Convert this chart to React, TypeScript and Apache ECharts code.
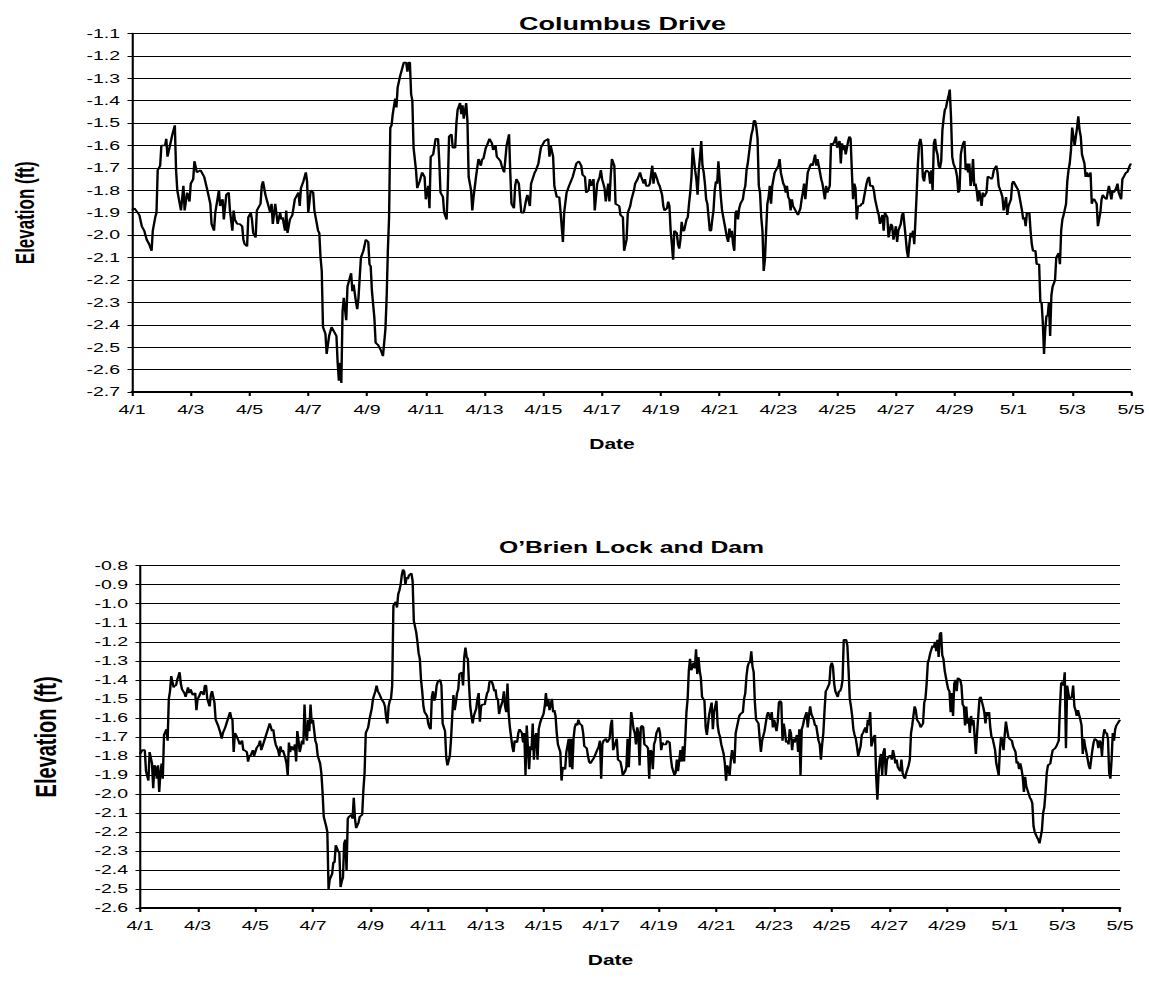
import { useEffect, useRef } from "react";
import * as echarts from "echarts";

// Hourly water-surface elevation readings: [hours since 4/1 00:00, elevation in ft]
const columbusDrive: [number, number][] = [
  [0,-1.89],[2,-1.88],[6,-1.91],[8,-1.96],[10,-1.98],[12,-2.02],[14,-2.04],[16,-2.07],[17,-1.98],[19,-1.92],
  [20,-1.90],[21,-1.71],[23,-1.69],[24,-1.60],[27,-1.60],[28,-1.57],[29,-1.65],[31,-1.60],[33,-1.55],[35,-1.51],
  [36,-1.71],[37,-1.80],[40,-1.89],[42,-1.78],[43,-1.89],[45,-1.81],[47,-1.85],[48,-1.77],[50,-1.75],[51,-1.67],
  [53,-1.72],[56,-1.71],[59,-1.74],[62,-1.81],[64,-1.86],[65,-1.95],[67,-1.98],[68,-1.90],[71,-1.80],[72,-1.87],
  [74,-1.84],[75,-1.93],[77,-1.82],[79,-1.81],[80,-1.89],[82,-1.98],[83,-1.89],[84,-1.93],[86,-1.95],[88,-1.95],
  [90,-1.96],[91,-2.02],[92,-2.04],[94,-2.05],[95,-1.92],[97,-1.90],[98,-1.93],[99,-1.99],[101,-2.01],[102,-1.89],
  [105,-1.86],[106,-1.78],[107,-1.76],[109,-1.82],[111,-1.86],[113,-1.90],[114,-1.86],[115,-1.95],[117,-1.86],[119,-1.95],
  [121,-1.90],[122,-1.93],[123,-1.92],[125,-1.98],[126,-1.89],[127,-1.99],[129,-1.93],[131,-1.91],[133,-1.84],[134,-1.83],
  [136,-1.81],[137,-1.87],[138,-1.79],[140,-1.76],[142,-1.72],[143,-1.76],[144,-1.90],[146,-1.80],[148,-1.81],[149,-1.89],
  [150,-1.92],[152,-1.98],[153,-1.99],[154,-2.10],[155,-2.16],[156,-2.41],[158,-2.44],[159,-2.53],[161,-2.45],[163,-2.41],
  [165,-2.43],[167,-2.45],[168,-2.57],[169,-2.65],[170,-2.57],[171,-2.66],[172,-2.34],[173,-2.28],[175,-2.38],[176,-2.23],
  [177,-2.21],[179,-2.17],[180,-2.25],[181,-2.22],[183,-2.30],[184,-2.33],[185,-2.28],[187,-2.10],[189,-2.07],[191,-2.02],
  [193,-2.03],[194,-2.13],[195,-2.14],[196,-2.25],[198,-2.37],[199,-2.48],[201,-2.49],[203,-2.51],[205,-2.54],[207,-2.42],
  [208,-2.28],[209,-2.07],[210,-1.92],[211,-1.52],[212,-1.51],[213,-1.46],[215,-1.39],[216,-1.43],[217,-1.34],[219,-1.29],
  [221,-1.25],[222,-1.23],[224,-1.23],[225,-1.27],[226,-1.23],[227,-1.23],[228,-1.37],[229,-1.40],[230,-1.61],[232,-1.71],
  [233,-1.79],[235,-1.76],[237,-1.72],[239,-1.74],[240,-1.84],[242,-1.78],[243,-1.88],[244,-1.65],[246,-1.64],[248,-1.57],
  [250,-1.57],[251,-1.67],[252,-1.81],[254,-1.83],[255,-1.90],[257,-1.93],[258,-1.78],[259,-1.56],[261,-1.55],[262,-1.61],
  [264,-1.61],[265,-1.50],[266,-1.44],[268,-1.41],[269,-1.46],[270,-1.42],[271,-1.48],[273,-1.41],[274,-1.49],[275,-1.74],
  [277,-1.80],[278,-1.89],[279,-1.83],[281,-1.74],[283,-1.66],[285,-1.69],[286,-1.66],[287,-1.66],[289,-1.61],[290,-1.60],
  [292,-1.57],[294,-1.59],[295,-1.62],[297,-1.60],[298,-1.65],[301,-1.67],[302,-1.69],[304,-1.72],[306,-1.60],[308,-1.55],
  [309,-1.72],[310,-1.86],[312,-1.88],[313,-1.78],[314,-1.75],[316,-1.77],[318,-1.90],[320,-1.90],[322,-1.84],[323,-1.82],
  [325,-1.87],[326,-1.77],[329,-1.72],[330,-1.71],[332,-1.68],[334,-1.61],[337,-1.58],[340,-1.57],[341,-1.65],[342,-1.60],
  [344,-1.65],[345,-1.78],[347,-1.83],[349,-1.83],[350,-1.89],[352,-2.03],[353,-1.90],[355,-1.81],[357,-1.78],[360,-1.74],
  [363,-1.68],[365,-1.67],[367,-1.69],[368,-1.73],[370,-1.74],[371,-1.81],[373,-1.80],[374,-1.75],[375,-1.78],[377,-1.75],
  [378,-1.89],[380,-1.77],[382,-1.74],[383,-1.71],[384,-1.75],[386,-1.79],[387,-1.85],[389,-1.77],[390,-1.85],[391,-1.74],
  [392,-1.66],[394,-1.69],[395,-1.86],[398,-1.87],[399,-1.91],[401,-1.92],[402,-2.07],[404,-2.02],[405,-1.90],[407,-1.87],
  [408,-1.84],[410,-1.80],[411,-1.77],[413,-1.75],[415,-1.72],[416,-1.74],[418,-1.77],[419,-1.75],[420,-1.78],[422,-1.78],
  [423,-1.77],[425,-1.69],[426,-1.77],[427,-1.72],[429,-1.75],[430,-1.77],[431,-1.78],[433,-1.82],[434,-1.87],[435,-1.89],
  [437,-1.88],[438,-1.85],[439,-1.87],[440,-1.98],[441,-2.04],[442,-2.11],[443,-1.98],[445,-1.99],[446,-2.04],[447,-2.06],
  [448,-2.02],[449,-1.94],[450,-1.98],[451,-1.98],[453,-1.93],[454,-1.92],[455,-1.86],[456,-1.81],[457,-1.74],[458,-1.61],
  [460,-1.71],[461,-1.75],[462,-1.82],[463,-1.71],[464,-1.65],[465,-1.58],[466,-1.69],[467,-1.72],[468,-1.77],[469,-1.84],
  [470,-1.86],[471,-1.92],[472,-1.98],[473,-1.98],[474,-1.93],[475,-1.89],[476,-1.80],[477,-1.76],[478,-1.77],[479,-1.67],
  [480,-1.75],[481,-1.83],[482,-1.89],[484,-1.95],[485,-1.98],[486,-2.01],[487,-2.03],[488,-1.97],[489,-2.01],[490,-1.98],
  [491,-2.04],[492,-2.07],[493,-1.90],[494,-1.89],[495,-1.93],[496,-1.88],[497,-1.86],[499,-1.84],[500,-1.80],[501,-1.78],
  [502,-1.71],[503,-1.68],[505,-1.59],[506,-1.55],[507,-1.53],[508,-1.49],[509,-1.49],[510,-1.52],[511,-1.57],[512,-1.78],
  [513,-1.81],[514,-1.92],[515,-1.98],[516,-2.16],[517,-2.11],[518,-1.98],[519,-1.86],[520,-1.83],[521,-1.78],[522,-1.86],
  [523,-1.78],[524,-1.75],[525,-1.72],[528,-1.69],[529,-1.66],[530,-1.72],[532,-1.77],[533,-1.78],[534,-1.81],[535,-1.78],
  [536,-1.83],[537,-1.84],[538,-1.89],[539,-1.84],[540,-1.87],[542,-1.89],[543,-1.90],[544,-1.91],[546,-1.88],[547,-1.84],
  [548,-1.81],[549,-1.77],[550,-1.84],[552,-1.72],[554,-1.69],[555,-1.68],[556,-1.69],[558,-1.64],[559,-1.69],[560,-1.66],
  [562,-1.72],[563,-1.75],[564,-1.77],[566,-1.84],[567,-1.78],[568,-1.81],[570,-1.78],[571,-1.59],[572,-1.60],[574,-1.58],
  [575,-1.56],[576,-1.61],[578,-1.58],[579,-1.68],[580,-1.59],[581,-1.62],[582,-1.60],[583,-1.64],[585,-1.58],[586,-1.56],
  [587,-1.57],[588,-1.71],[589,-1.84],[590,-1.77],[591,-1.79],[592,-1.93],[593,-1.87],[595,-1.87],[596,-1.86],[597,-1.86],
  [599,-1.80],[600,-1.77],[601,-1.75],[602,-1.74],[603,-1.78],[605,-1.78],[606,-1.80],[607,-1.84],[609,-1.89],[610,-1.91],
  [611,-1.95],[613,-1.91],[614,-1.98],[615,-1.90],[617,-1.92],[618,-2.01],[620,-1.95],[621,-1.96],[622,-2.02],[624,-1.96],
  [625,-2.03],[626,-1.98],[628,-1.95],[629,-1.91],[630,-1.90],[632,-2.01],[633,-2.07],[634,-2.10],[635,-2.04],[636,-1.99],
  [637,-2.01],[638,-1.98],[639,-2.04],[640,-1.93],[641,-1.81],[642,-1.68],[643,-1.59],[644,-1.57],[645,-1.60],[646,-1.74],
  [647,-1.76],[648,-1.72],[649,-1.71],[651,-1.72],[652,-1.77],[653,-1.71],[654,-1.80],[655,-1.59],[656,-1.57],[657,-1.62],
  [658,-1.64],[659,-1.69],[660,-1.70],[661,-1.67],[662,-1.53],[663,-1.48],[664,-1.44],[665,-1.43],[666,-1.40],[667,-1.38],
  [668,-1.35],[669,-1.47],[670,-1.65],[671,-1.68],[673,-1.71],[674,-1.74],[675,-1.81],[676,-1.80],[677,-1.64],[678,-1.61],
  [679,-1.59],[680,-1.58],[681,-1.71],[682,-1.68],[683,-1.72],[684,-1.68],[685,-1.78],[686,-1.75],[687,-1.66],[688,-1.78],
  [689,-1.77],[690,-1.80],[691,-1.85],[692,-1.80],[693,-1.83],[694,-1.87],[695,-1.81],[696,-1.83],[698,-1.81],[699,-1.74],
  [700,-1.74],[702,-1.75],[703,-1.74],[704,-1.71],[706,-1.69],[707,-1.72],[708,-1.78],[710,-1.81],[711,-1.83],[712,-1.89],
  [714,-1.83],[715,-1.91],[716,-1.87],[718,-1.84],[719,-1.77],[720,-1.76],[722,-1.78],[724,-1.80],[725,-1.83],[727,-1.89],
  [728,-1.93],[729,-1.92],[730,-1.96],[731,-1.90],[733,-1.90],[734,-1.98],[735,-2.04],[736,-2.07],[738,-2.07],[739,-2.13],
  [741,-2.13],[742,-2.30],[743,-2.30],[744,-2.39],[745,-2.53],[746,-2.42],[747,-2.36],[748,-2.36],[749,-2.30],[750,-2.45],
  [751,-2.27],[752,-2.23],[754,-2.20],[755,-2.10],[757,-2.08],[758,-2.13],[759,-1.98],[760,-1.93],[761,-1.91],[763,-1.86],
  [764,-1.76],[765,-1.71],[766,-1.68],[767,-1.62],[768,-1.52],[769,-1.56],[770,-1.60],[771,-1.56],[772,-1.52],[773,-1.47],
  [774,-1.53],[775,-1.56],[776,-1.64],[778,-1.68],[779,-1.74],[780,-1.72],[781,-1.74],[783,-1.72],[784,-1.86],[785,-1.84],
  [786,-1.84],[788,-1.86],[789,-1.96],[790,-1.93],[791,-1.90],[792,-1.84],[793,-1.82],[794,-1.83],[796,-1.84],[797,-1.81],
  [798,-1.78],[800,-1.84],[801,-1.80],[802,-1.81],[804,-1.79],[805,-1.77],[806,-1.81],[808,-1.84],[809,-1.75],[810,-1.74],
  [812,-1.72],[813,-1.72],[815,-1.69],[816,-1.68],
];

const obrienLockAndDam: [number, number][] = [
  [0,-1.79],[2,-1.77],[4,-1.77],[5,-1.88],[7,-1.93],[8,-1.78],[10,-1.84],[11,-1.97],[12,-1.85],[13,-1.86],
  [14,-1.92],[15,-1.85],[16,-1.99],[17,-1.89],[18,-1.84],[19,-1.92],[20,-1.69],[22,-1.66],[23,-1.72],[24,-1.50],
  [25,-1.46],[26,-1.38],[28,-1.44],[29,-1.43],[30,-1.43],[31,-1.40],[33,-1.36],[34,-1.42],[35,-1.45],[36,-1.46],
  [37,-1.47],[38,-1.49],[40,-1.44],[41,-1.47],[42,-1.45],[44,-1.48],[46,-1.47],[47,-1.56],[48,-1.50],[49,-1.49],
  [51,-1.46],[53,-1.48],[54,-1.43],[55,-1.43],[56,-1.50],[58,-1.54],[59,-1.48],[60,-1.46],[62,-1.52],[63,-1.61],
  [65,-1.64],[67,-1.68],[68,-1.71],[69,-1.68],[71,-1.65],[72,-1.63],[74,-1.59],[75,-1.57],[76,-1.60],[77,-1.61],
  [78,-1.78],[79,-1.68],[80,-1.69],[82,-1.72],[83,-1.74],[85,-1.72],[86,-1.77],[87,-1.77],[89,-1.78],[90,-1.83],
  [91,-1.80],[92,-1.80],[94,-1.77],[95,-1.80],[97,-1.76],[99,-1.74],[100,-1.72],[101,-1.77],[102,-1.75],[104,-1.71],
  [106,-1.67],[107,-1.65],[108,-1.63],[110,-1.67],[111,-1.66],[112,-1.71],[113,-1.74],[115,-1.77],[116,-1.80],[117,-1.75],
  [118,-1.78],[119,-1.77],[121,-1.81],[122,-1.84],[123,-1.90],[124,-1.73],[125,-1.78],[126,-1.75],[128,-1.77],[129,-1.74],
  [130,-1.83],[131,-1.67],[132,-1.72],[133,-1.78],[135,-1.72],[136,-1.74],[137,-1.53],[138,-1.68],[139,-1.72],[140,-1.61],
  [141,-1.67],[142,-1.53],[143,-1.63],[144,-1.61],[146,-1.72],[147,-1.74],[148,-1.80],[149,-1.82],[150,-1.84],[151,-1.89],
  [152,-1.99],[153,-2.12],[155,-2.17],[156,-2.20],[157,-2.50],[158,-2.45],[160,-2.42],[161,-2.36],[162,-2.36],[163,-2.27],
  [165,-2.30],[166,-2.31],[167,-2.49],[168,-2.46],[169,-2.44],[170,-2.26],[171,-2.24],[172,-2.40],[173,-2.13],[174,-2.12],
  [176,-2.11],[177,-2.13],[178,-2.02],[179,-2.13],[180,-2.18],[182,-2.15],[183,-2.12],[185,-2.11],[186,-1.98],[187,-1.89],
  [188,-1.68],[190,-1.65],[191,-1.61],[193,-1.55],[194,-1.50],[196,-1.46],[197,-1.43],[198,-1.46],[199,-1.47],[201,-1.50],
  [203,-1.52],[204,-1.54],[205,-1.60],[206,-1.63],[207,-1.54],[208,-1.51],[209,-1.50],[210,-1.43],[211,-1.01],[212,-1.00],
  [213,-0.99],[214,-1.02],[215,-0.95],[216,-0.93],[217,-0.90],[218,-0.85],[219,-0.82],[220,-0.83],[221,-0.90],[222,-0.86],
  [223,-0.87],[224,-0.85],[226,-0.84],[227,-0.88],[228,-1.09],[230,-1.15],[231,-1.20],[232,-1.26],[233,-1.29],[234,-1.40],
  [235,-1.46],[236,-1.54],[237,-1.57],[239,-1.59],[240,-1.63],[241,-1.65],[242,-1.66],[243,-1.49],[244,-1.46],[245,-1.51],
  [246,-1.49],[247,-1.43],[248,-1.41],[250,-1.40],[251,-1.43],[252,-1.63],[254,-1.67],[255,-1.81],[256,-1.85],[258,-1.80],
  [259,-1.71],[260,-1.59],[261,-1.48],[262,-1.56],[263,-1.52],[264,-1.47],[265,-1.45],[266,-1.37],[268,-1.36],[269,-1.43],
  [270,-1.28],[271,-1.23],[272,-1.28],[273,-1.29],[274,-1.43],[275,-1.54],[276,-1.59],[277,-1.63],[278,-1.59],[280,-1.55],
  [281,-1.50],[282,-1.47],[283,-1.62],[284,-1.54],[285,-1.53],[287,-1.53],[289,-1.47],[290,-1.46],[291,-1.41],[293,-1.41],
  [294,-1.43],[295,-1.46],[296,-1.45],[297,-1.50],[298,-1.50],[299,-1.58],[300,-1.55],[302,-1.51],[303,-1.46],[304,-1.54],
  [305,-1.57],[306,-1.42],[307,-1.58],[308,-1.65],[310,-1.75],[311,-1.78],[312,-1.72],[314,-1.73],[315,-1.68],[316,-1.66],
  [318,-1.68],[319,-1.73],[320,-1.68],[321,-1.90],[322,-1.64],[324,-1.87],[325,-1.75],[326,-1.77],[327,-1.63],[328,-1.82],
  [329,-1.70],[330,-1.68],[331,-1.82],[332,-1.66],[333,-1.63],[334,-1.61],[336,-1.58],[337,-1.54],[338,-1.47],[339,-1.54],
  [340,-1.50],[341,-1.56],[343,-1.50],[344,-1.57],[345,-1.56],[346,-1.59],[347,-1.68],[348,-1.74],[350,-1.78],[351,-1.93],
  [352,-1.86],[354,-1.87],[355,-1.78],[357,-1.71],[358,-1.86],[359,-1.71],[360,-1.87],[361,-1.71],[362,-1.65],[363,-1.63],
  [364,-1.64],[365,-1.61],[366,-1.63],[368,-1.64],[369,-1.68],[370,-1.75],[372,-1.76],[373,-1.80],[374,-1.83],[375,-1.84],
  [377,-1.82],[378,-1.81],[380,-1.78],[382,-1.75],[383,-1.72],[384,-1.92],[385,-1.74],[386,-1.72],[388,-1.71],[389,-1.73],
  [391,-1.71],[392,-1.64],[393,-1.61],[394,-1.77],[395,-1.75],[397,-1.71],[398,-1.82],[400,-1.83],[401,-1.86],[402,-1.90],
  [404,-1.88],[405,-1.86],[406,-1.71],[407,-1.86],[408,-1.71],[409,-1.57],[410,-1.61],[411,-1.66],[412,-1.68],[413,-1.74],
  [414,-1.65],[415,-1.68],[416,-1.85],[417,-1.65],[418,-1.64],[419,-1.65],[420,-1.74],[422,-1.75],[423,-1.76],[424,-1.92],
  [425,-1.77],[426,-1.78],[427,-1.87],[428,-1.74],[429,-1.72],[430,-1.68],[432,-1.65],[433,-1.68],[434,-1.77],[435,-1.73],
  [436,-1.74],[438,-1.74],[439,-1.72],[441,-1.73],[442,-1.81],[443,-1.86],[445,-1.90],[446,-1.89],[447,-1.82],[448,-1.88],
  [450,-1.77],[451,-1.83],[452,-1.75],[453,-1.83],[454,-1.71],[455,-1.57],[456,-1.50],[457,-1.35],[458,-1.29],[459,-1.35],
  [461,-1.31],[462,-1.34],[463,-1.24],[464,-1.37],[465,-1.28],[466,-1.35],[467,-1.39],[468,-1.49],[470,-1.51],[471,-1.65],
  [472,-1.69],[474,-1.58],[476,-1.52],[477,-1.66],[478,-1.57],[480,-1.51],[481,-1.64],[482,-1.68],[483,-1.70],[484,-1.74],
  [486,-1.79],[487,-1.84],[488,-1.93],[489,-1.85],[491,-1.90],[492,-1.82],[493,-1.77],[495,-1.84],[496,-1.68],[497,-1.65],
  [498,-1.62],[499,-1.59],[500,-1.58],[502,-1.57],[503,-1.50],[504,-1.47],[505,-1.38],[506,-1.33],[507,-1.31],[508,-1.31],
  [509,-1.25],[510,-1.33],[511,-1.36],[512,-1.52],[513,-1.61],[515,-1.63],[516,-1.71],[517,-1.78],[518,-1.72],[520,-1.67],
  [521,-1.63],[522,-1.59],[523,-1.57],[524,-1.59],[525,-1.61],[526,-1.57],[527,-1.65],[528,-1.61],[529,-1.64],[530,-1.67],
  [531,-1.62],[532,-1.52],[533,-1.51],[534,-1.52],[535,-1.72],[536,-1.63],[537,-1.67],[538,-1.73],[539,-1.72],[540,-1.74],
  [541,-1.66],[542,-1.68],[543,-1.77],[544,-1.71],[545,-1.73],[547,-1.69],[548,-1.78],[549,-1.66],[550,-1.90],[551,-1.66],
  [552,-1.64],[553,-1.61],[555,-1.57],[556,-1.65],[557,-1.59],[558,-1.54],[559,-1.58],[561,-1.61],[562,-1.64],[563,-1.64],
  [565,-1.72],[566,-1.74],[567,-1.82],[568,-1.74],[569,-1.68],[570,-1.56],[571,-1.46],[572,-1.45],[574,-1.42],[575,-1.33],
  [576,-1.31],[577,-1.33],[578,-1.42],[579,-1.46],[581,-1.49],[582,-1.46],[583,-1.46],[584,-1.44],[585,-1.40],[586,-1.19],
  [588,-1.19],[589,-1.22],[590,-1.35],[591,-1.50],[592,-1.54],[593,-1.59],[594,-1.66],[595,-1.69],[596,-1.71],[597,-1.75],
  [598,-1.80],[600,-1.75],[601,-1.69],[602,-1.68],[604,-1.65],[605,-1.68],[606,-1.61],[607,-1.64],[608,-1.57],[609,-1.75],
  [611,-1.70],[612,-1.69],[613,-1.91],[614,-2.03],[615,-1.89],[616,-1.82],[617,-1.79],[618,-1.90],[619,-1.78],[620,-1.76],
  [621,-1.90],[622,-1.82],[623,-1.81],[624,-1.80],[625,-1.80],[626,-1.82],[627,-1.77],[628,-1.80],[629,-1.84],[630,-1.82],
  [631,-1.86],[633,-1.88],[634,-1.82],[635,-1.89],[636,-1.91],[637,-1.92],[638,-1.89],[640,-1.85],[641,-1.82],[642,-1.68],
  [643,-1.64],[644,-1.59],[645,-1.54],[646,-1.56],[647,-1.61],[649,-1.63],[650,-1.65],[652,-1.63],[653,-1.52],[654,-1.50],
  [655,-1.42],[656,-1.31],[657,-1.29],[658,-1.26],[659,-1.24],[660,-1.22],[661,-1.23],[662,-1.20],[663,-1.25],[664,-1.19],
  [665,-1.28],[666,-1.16],[667,-1.15],[668,-1.27],[669,-1.29],[670,-1.35],[672,-1.42],[673,-1.45],[674,-1.46],[675,-1.57],
  [676,-1.47],[677,-1.59],[678,-1.42],[679,-1.40],[680,-1.46],[681,-1.39],[683,-1.40],[684,-1.43],[685,-1.53],[686,-1.54],
  [687,-1.64],[688,-1.54],[689,-1.63],[690,-1.60],[691,-1.68],[692,-1.59],[693,-1.64],[694,-1.61],[695,-1.70],[696,-1.79],
  [697,-1.68],[698,-1.59],[699,-1.50],[700,-1.49],[702,-1.54],[703,-1.57],[704,-1.63],[705,-1.57],[706,-1.59],[707,-1.57],
  [708,-1.65],[709,-1.70],[710,-1.71],[712,-1.77],[713,-1.84],[715,-1.90],[716,-1.77],[717,-1.70],[718,-1.72],[719,-1.77],
  [720,-1.69],[721,-1.62],[722,-1.66],[723,-1.70],[724,-1.71],[726,-1.72],[727,-1.75],[729,-1.78],[730,-1.84],[731,-1.83],
  [732,-1.87],[733,-1.84],[734,-1.87],[735,-1.91],[736,-1.99],[737,-1.91],[738,-1.96],[740,-2.00],[741,-2.02],[742,-2.03],
  [743,-2.05],[744,-2.17],[745,-2.20],[747,-2.23],[748,-2.24],[749,-2.26],[751,-2.19],[752,-2.10],[753,-2.07],[754,-1.99],
  [755,-1.89],[756,-1.85],[758,-1.84],[759,-1.80],[760,-1.77],[762,-1.76],[763,-1.75],[765,-1.72],[766,-1.54],[767,-1.42],
  [768,-1.41],[769,-1.43],[770,-1.36],[771,-1.76],[772,-1.43],[773,-1.47],[774,-1.50],[776,-1.49],[777,-1.43],[778,-1.54],
  [779,-1.56],[780,-1.59],[781,-1.56],[783,-1.61],[784,-1.64],[785,-1.79],[786,-1.71],[787,-1.75],[788,-1.78],[790,-1.85],
  [791,-1.87],[792,-1.82],[793,-1.77],[794,-1.73],[795,-1.71],[797,-1.72],[798,-1.76],[799,-1.72],[800,-1.73],[801,-1.80],
  [802,-1.70],[803,-1.66],[804,-1.68],[805,-1.68],[806,-1.71],[807,-1.89],[808,-1.92],[809,-1.82],[810,-1.68],[811,-1.72],
  [812,-1.66],[813,-1.64],[815,-1.62],[816,-1.61],
];

// Date tick labels, one every two days
const dateLabels = [
  "4/1", "4/3", "4/5", "4/7", "4/9", "4/11", "4/13", "4/15", "4/17",
  "4/19", "4/21", "4/23", "4/25", "4/27", "4/29", "5/1", "5/3", "5/5",
];

const chartTitles = ["Columbus Drive", "O\u2019Brien Lock and Dam"];

// The drawing is laid out on a narrow canvas and widened horizontally.
const STRETCH = 1.5;
const PAGE_W = 1149;
const PAGE_H = 983;
const FONT = '"Liberation Sans", Arial, Helvetica, sans-serif';

function makeXAxis(gridIndex: number) {
  return {
    gridIndex,
    type: "value" as const,
    min: 0,
    max: 816,
    interval: 48,
    axisLine: { onZero: false, lineStyle: { color: "#000", width: 2 } },
    axisTick: { show: true, length: 4, lineStyle: { color: "#000", width: 1.4 } },
    axisLabel: {
      margin: 11,
      color: "#000",
      fontFamily: FONT,
      fontSize: 13,
      formatter: (v: number) => dateLabels[Math.round(v / 48)] ?? "",
    },
    splitLine: { show: false },
    name: "Date",
    nameLocation: "middle" as const,
    nameGap: 45,
    nameTextStyle: {
      color: "#000",
      fontFamily: FONT,
      fontWeight: "bold" as const,
      fontSize: 14,
      padding: [0, 26, 0, 0],
    },
  };
}

function makeYAxis(gridIndex: number, min: number, max: number, nameSize: number, nameGap: number) {
  return {
    gridIndex,
    type: "value" as const,
    min,
    max,
    interval: 0.1,
    axisLine: { show: true, onZero: false, lineStyle: { color: "#000", width: 1.4 } },
    axisTick: { show: true, length: 3, lineStyle: { color: "#000", width: 1 } },
    axisLabel: {
      margin: 8,
      color: "#000",
      fontFamily: FONT,
      fontSize: 13,
      formatter: (v: number) => v.toFixed(1),
    },
    splitLine: { show: true, lineStyle: { color: "#000", width: 1 } },
    name: "Elevation (ft)",
    nameLocation: "middle" as const,
    nameGap,
    nameTextStyle: { color: "#000", fontFamily: FONT, fontWeight: "bold" as const, fontSize: nameSize },
  };
}

export default function App() {
  const ref = useRef<HTMLDivElement>(null);

  useEffect(() => {
    if (!ref.current) return;
    const chart = echarts.init(ref.current, undefined, { renderer: "svg" });
    const titleStyle = (size: number) => ({
      color: "#000",
      fontFamily: FONT,
      fontWeight: "bold" as const,
      fontSize: size,
    });
    chart.setOption({
      animation: false,
      backgroundColor: "#fff",
      title: [
        { text: chartTitles[0], left: 410, top: 10, textAlign: "center", textStyle: titleStyle(18) },
        { text: chartTitles[1], left: 416, top: 534, textAlign: "center", textStyle: titleStyle(16.5) },
      ],
      grid: [
        { left: 81.33, top: 33.5, width: 674.33, height: 358.5 },
        { left: 93.33, top: 565.7, width: 653.33, height: 342.3 },
      ],
      xAxis: [makeXAxis(0), makeXAxis(1)],
      yAxis: [makeYAxis(0, -2.7, -1.1, 17, 63), makeYAxis(1, -2.6, -0.8, 20, 53)],
      series: [
        {
          type: "line",
          xAxisIndex: 0,
          yAxisIndex: 0,
          data: columbusDrive,
          symbol: "none",
          lineStyle: { color: "#000", width: 1.6 },
        },
        {
          type: "line",
          xAxisIndex: 1,
          yAxisIndex: 1,
          data: obrienLockAndDam,
          symbol: "none",
          lineStyle: { color: "#000", width: 1.6 },
        },
      ],
    });
    return () => chart.dispose();
  }, []);

  return (
    <div
      ref={ref}
      style={{
        position: "fixed",
        left: 0,
        top: 0,
        width: PAGE_W / STRETCH,
        height: PAGE_H,
        transform: `scaleX(${STRETCH})`,
        transformOrigin: "0 0",
        background: "#fff",
      }}
    />
  );
}
